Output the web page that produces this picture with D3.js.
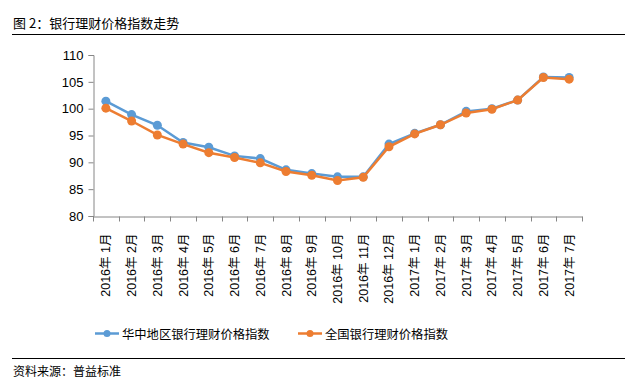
<!DOCTYPE html>
<html>
<head>
<meta charset="utf-8">
<script src="https://cdn.jsdelivr.net/npm/d3@7"></script>
<style>
body { margin: 0; background: #fff; }
text { font-family: "Liberation Sans", "Noto Sans CJK SC", sans-serif; }
</style>
</head>
<body>
<script>
// months on the x axis
var months = ["2016年 1月", "2016年 2月", "2016年 3月", "2016年 4月", "2016年 5月", "2016年 6月",
              "2016年 7月", "2016年 8月", "2016年 9月", "2016年 10月", "2016年 11月", "2016年 12月",
              "2017年 1月", "2017年 2月", "2017年 3月", "2017年 4月", "2017年 5月", "2017年 6月", "2017年 7月"];
// 华中地区银行理财价格指数
var central = [101.4, 98.9, 96.9, 93.7, 92.8, 91.2, 90.7, 88.6, 87.9, 87.3, 87.3, 93.4,
               95.4, 97.0, 99.5, 100.0, 101.6, 105.9, 105.8];
// 全国银行理财价格指数
var national = [100.1, 97.7, 95.1, 93.4, 91.8, 90.9, 89.9, 88.3, 87.6, 86.6, 87.2, 92.9,
                95.3, 97.0, 99.2, 99.9, 101.6, 105.8, 105.5];
var yTicks = [80, 85, 90, 95, 100, 105, 110];
var seriesNames = ["华中地区银行理财价格指数", "全国银行理财价格指数"];
var colors = ["#5b9bd5", "#ed7d31"];

var w = 633, h = 385;
var svg = d3.select("body").append("svg").attr("width", w).attr("height", h);

// title and rules
svg.append("text").attr("x", 13).attr("y", 28)
   .style("font-size", "13px").style("font-family", "Noto Sans CJK SC")
   .text("图 2：银行理财价格指数走势");
svg.append("line").attr("x1", 12).attr("x2", 625).attr("y1", 34.5).attr("y2", 34.5)
   .attr("stroke", "#000").attr("stroke-width", 1);
svg.append("line").attr("x1", 12).attr("x2", 625).attr("y1", 358.5).attr("y2", 358.5)
   .attr("stroke", "#000").attr("stroke-width", 1);
svg.append("text").attr("x", 13).attr("y", 376)
   .style("font-size", "12px").style("font-family", "Noto Sans CJK SC")
   .text("资料来源：普益标准");

var x = d3.scaleBand().domain(months).range([93, 582]);
var y = d3.scaleLinear().domain([80, 110]).range([216, 55]);

var axisColor = "#868686";

var gy = svg.append("g").attr("transform", "translate(93.5,0)")
    .call(d3.axisLeft(y).tickValues(yTicks).tickSize(5).tickPadding(5));
gy.selectAll("text").style("font-size", "13px").attr("fill", "#000");

var gx = svg.append("g").attr("transform", "translate(0,216.5)")
    .call(d3.axisBottom(x).tickSize(0).tickFormat(""));
gx.selectAll(".tick").remove();
// ticks on band boundaries
gx.selectAll("line.bt").data(months.concat([null])).enter().append("line")
  .attr("class", "bt")
  .attr("x1", function(d, i) { return Math.round(93 + i * x.step()) + 0.5; })
  .attr("x2", function(d, i) { return Math.round(93 + i * x.step()) + 0.5; })
  .attr("y1", 0).attr("y2", 5).attr("stroke", axisColor);
gx.selectAll("text.lab").data(months).enter().append("text")
  .attr("class", "lab")
  .attr("transform", function(d) { return "translate(" + (x(d) + x.bandwidth() / 2 + 4.5) + ",17) rotate(-90)"; })
  .attr("text-anchor", "end")
  .style("font-size", "12.5px").attr("fill", "#000")
  .text(function(d) { return d; });

svg.selectAll(".domain").attr("stroke", axisColor);
gy.selectAll(".tick line").attr("stroke", axisColor);

var line = d3.line()
    .x(function(d, i) { return x(months[i]) + x.bandwidth() / 2; })
    .y(function(d) { return y(d); });

[central, national].forEach(function(s, k) {
  svg.append("path").datum(s).attr("d", line)
     .attr("fill", "none").attr("stroke", colors[k]).attr("stroke-width", 2.5);
  svg.selectAll("circle.s" + k).data(s).enter().append("circle")
     .attr("class", "s" + k)
     .attr("cx", function(d, i) { return x(months[i]) + x.bandwidth() / 2; })
     .attr("cy", function(d) { return y(d); })
     .attr("r", 4.5).attr("fill", colors[k]);
});

// legend
var legX = [95, 298];
seriesNames.forEach(function(n, k) {
  var g = svg.append("g").attr("transform", "translate(" + legX[k] + ",333.5)");
  g.append("line").attr("x1", 0).attr("x2", 24).attr("stroke", colors[k]).attr("stroke-width", 2.5);
  g.append("circle").attr("cx", 12).attr("r", 3.5).attr("fill", colors[k]);
  g.append("text").attr("x", 27).attr("y", 5).style("font-size", "12.3px")
   .style("font-family", "Noto Sans CJK SC").text(n);
});
</script>
</body>
</html>
